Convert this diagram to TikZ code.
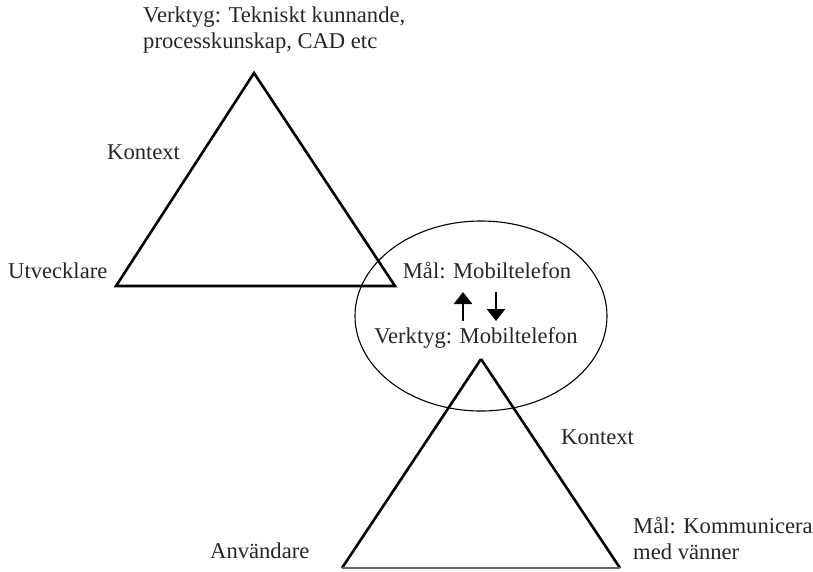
\documentclass[tikz,border=0pt]{standalone}
\usepackage{fontspec}
\setmainfont{Liberation Serif}
\usetikzlibrary{arrows.meta}
\begin{document}
\begin{tikzpicture}[x=1pt,y=-1pt,
  lbl/.style={font=\fontsize{22.6}{26}\selectfont, text=black!85, inner sep=0pt},
  tri/.style={line width=2.6pt, line join=miter},
  ring/.style={line width=1.1pt},
  vert/.style={line width=2.6pt, -{Triangle[length=12pt,width=18pt]}}]
\useasboundingbox (0,0) rectangle (813,571);
% top triangle
\coordinate (ta) at (254,73);
\coordinate (tl) at (116,286);
\coordinate (tr) at (395,286);
\draw[tri] (ta) -- (tl) -- (tr) -- cycle;
% bottom triangle
\coordinate (ba) at (481,359);
\coordinate (bl) at (342,568);
\coordinate (br) at (620,568);
\draw[tri] (ba) -- (bl);
\draw[tri] (ba) -- (br);
\draw[line width=1.2pt, black!60] (bl) -- (br);
% ellipse
\draw[ring] (481,316) ellipse [x radius=126, y radius=95];
% labels
\node[lbl, anchor=west, align=left] (tool1) at (143,30) {Verktyg: Tekniskt kunnande,\\processkunskap, CAD etc};
\node[lbl, anchor=west] (ctx1) at (107,152) {Kontext};
\node[lbl, anchor=west] (dev) at (8,271) {Utvecklare};
\node[lbl] (goal) at (487,270) {Mål: Mobiltelefon};
\node[lbl] (tool2) at (476,338) {Verktyg: Mobiltelefon};
\node[lbl, anchor=west] (ctx2) at (561,437) {Kontext};
\node[lbl, anchor=west] (user) at (210,551) {Användare};
\node[lbl, anchor=west, align=left] (goal2) at (633,538) {Mål: Kommunicera\\med vänner};
% arrows
\coordinate (u1) at (463,321);
\coordinate (u2) at (463,292);
\coordinate (d1) at (496,292);
\coordinate (d2) at (496,321);
\draw[vert] (u1) -- (u2);
\draw[vert] (d1) -- (d2);
\end{tikzpicture}
\end{document}
